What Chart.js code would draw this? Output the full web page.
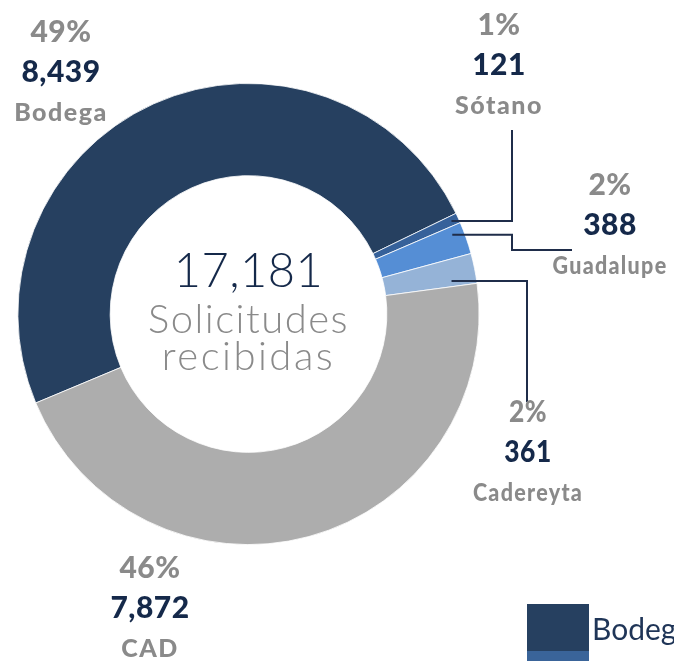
<!DOCTYPE html>
<html>
<head>
<meta charset="utf-8">
<script src="https://cdn.jsdelivr.net/npm/chart.js@4.4.0/dist/chart.umd.min.js"></script>
<style>
  html, body { margin: 0; padding: 0; background: #fff; overflow: hidden; width: 674px; height: 661px; }
  #wrap { position: relative; width: 674px; height: 661px; overflow: hidden; }
  #legend { position: absolute; left: 527px; top: 604px; font-family: Lato, sans-serif; font-size: 30px; color: #1f3557; }
  .item { display: flex; align-items: center; height: 47px; white-space: nowrap; }
  .box { width: 62px; height: 47px; margin-right: 3px; flex: none; }
</style>
</head>
<body>
<div id="wrap">
  <canvas id="chart" width="674" height="661"></canvas>
  <div id="legend"></div>
</div>
<script>
// data
var categories = ['Bodega', 'Sótano', 'Guadalupe', 'Cadereyta', 'CAD'];
var requests = [8439, 121, 388, 361, 7872];
var centerLines = ['Solicitudes', 'recibidas'];

var sliceColors = ['#264060', '#36619a', '#558ed5', '#95b3d7', '#adadad'];
var grayText = '#8a8a8a';
var navyText = '#15294a';

var total = requests.reduce(function (a, b) { return a + b; }, 0);

// label layout, offsets from the doughnut center (value line), squeeze = horizontal scale
var labelPos = [
  { dx: -187.5, dy: -242, squeeze: [1, 1, 1] },
  { dx: 250.5, dy: -249, squeeze: [1, 1, 1] },
  { dx: 361.5, dy: -89, squeeze: [1, 1, 0.86] },
  { dx: 279.5, dy: 138, squeeze: [0.88, 0.88, 0.86] },
  { dx: -98.5, dy: 294, squeeze: [1, 1, 1] }
];

// leader lines: f = position along slice angle, rf = position across ring
var leaders = [
  { idx: 1, f: 0.5, rf: 0.92, path: [[263.5, null], [263.5, -184]] },
  { idx: 2, f: 0.26, rf: 0.87, path: [[263.5, null], [263.5, -64], [323.5, -64]] },
  { idx: 3, f: 0.79, rf: 0.73, path: [[278.5, null], [278.5, 88]] }
];

function drawText(ctx, text, x, y, font, color, sx, spacing) {
  ctx.save();
  ctx.font = font;
  ctx.fillStyle = color;
  ctx.textAlign = 'center';
  ctx.textBaseline = 'middle';
  ctx.letterSpacing = (spacing || 0) + 'px';
  ctx.translate(x, y);
  ctx.scale(sx || 1, 1);
  ctx.fillText(text, 0, 0);
  ctx.restore();
}

var labelPlugin = {
  id: 'sliceLabels',
  afterDraw: function (chart) {
    var ctx = chart.ctx;
    var arcs = chart.getDatasetMeta(0).data;
    var cx = arcs[0].x, cy = arcs[0].y;

    // leader lines
    ctx.save();
    ctx.strokeStyle = '#1f2d4a';
    ctx.lineWidth = 2;
    leaders.forEach(function (l) {
      var a = arcs[l.idx];
      var ang = a.startAngle + (a.endAngle - a.startAngle) * l.f;
      var r = a.innerRadius + (a.outerRadius - a.innerRadius) * l.rf;
      var sx = cx + Math.cos(ang) * r, sy = cy + Math.sin(ang) * r;
      ctx.beginPath();
      ctx.moveTo(sx, sy);
      l.path.forEach(function (p) {
        ctx.lineTo(cx + p[0], p[1] === null ? sy : cy + p[1]);
      });
      ctx.stroke();
    });
    ctx.restore();

    // data labels
    requests.forEach(function (v, i) {
      var p = labelPos[i];
      var x = cx + p.dx, y = cy + p.dy;
      var pct = Math.round(v / total * 100) + '%';
      drawText(ctx, pct, x, y - 40, '900 30px Lato', grayText, p.squeeze[0], 0.5);
      drawText(ctx, v.toLocaleString('en-US'), x, y, '900 30px Lato', navyText, p.squeeze[1], 0.5);
      drawText(ctx, categories[i], x, y + 41, '900 25px Lato', grayText, p.squeeze[2], 1.5);
    });

    // center text
    drawText(ctx, total.toLocaleString('en-US'), cx, cy - 42, '300 47px Lato', navyText, 1, 0.5);
    drawText(ctx, centerLines[0], cx, cy + 6, '300 40px Lato', grayText, 1, 1.5);
    drawText(ctx, centerLines[1], cx, cy + 43, '300 40px Lato', grayText, 1, 2.5);
  }
};

var ctx = document.getElementById('chart').getContext('2d');
var chart = new Chart(ctx, {
  type: 'doughnut',
  data: {
    labels: categories,
    datasets: [{
      data: requests,
      backgroundColor: sliceColors,
      borderColor: '#ffffff',
      borderWidth: 0.8
    }]
  },
  options: {
    responsive: false,
    animation: false,
    events: [],
    rotation: 247.3,
    cutout: '60%',
    layout: { padding: { left: 17, right: 194, top: 83, bottom: 116 } },
    plugins: {
      legend: { display: false },
      tooltip: { enabled: false }
    }
  },
  plugins: [labelPlugin]
});

// legend (cut off by the picture edge, as in the original)
var legend = document.getElementById('legend');
categories.forEach(function (c, i) {
  var item = document.createElement('div');
  item.className = 'item';
  var box = document.createElement('div');
  box.className = 'box';
  box.style.background = sliceColors[i] === '#36619a' ? '#3a6499' : sliceColors[i];
  var span = document.createElement('span');
  span.textContent = c;
  item.appendChild(box);
  item.appendChild(span);
  legend.appendChild(item);
});
</script>
</body>
</html>
